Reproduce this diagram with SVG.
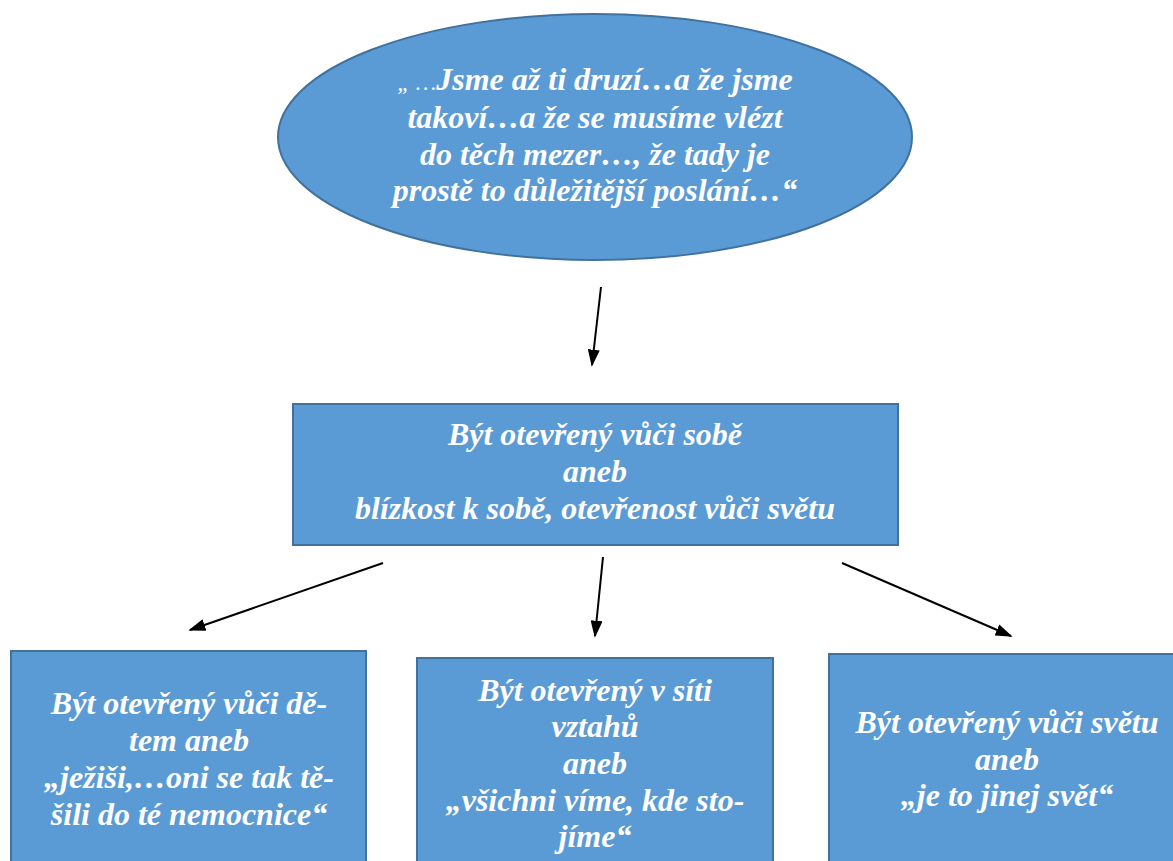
<svg xmlns="http://www.w3.org/2000/svg" width="1173" height="861" viewBox="0 0 1173 861">
<defs>
<style>
.shape{fill:#5b9bd5;stroke:#41719c;stroke-width:2}
.t{font-family:"Liberation Serif","Times New Roman",serif;font-weight:bold;font-style:italic;font-size:32px;fill:#ffffff;text-anchor:middle}
.conn{stroke:#000;stroke-width:2;fill:none;marker-end:url(#ah)}
</style>
<marker id="ah" viewBox="0 0 10 10" refX="9" refY="5" markerWidth="17" markerHeight="12" markerUnits="userSpaceOnUse" orient="auto" preserveAspectRatio="none">
<path d="M0,0 L10,5 L0,10 z" fill="#000"/>
</marker>
</defs>
<rect width="1173" height="861" fill="#ffffff"/>
<g id="n-quote">
<ellipse class="shape" cx="595" cy="137" rx="317" ry="123"/>
<text class="t" x="595" y="90"><tspan font-size="23" font-weight="normal">„ …</tspan>Jsme až ti druzí…a že jsme</text>
<text class="t" x="595" y="128">takoví…a že se musíme vlézt</text>
<text class="t" x="595" y="165">do těch mezer…, že tady je</text>
<text class="t" x="595" y="201">prostě to důležitější poslání…“</text>
</g>
<g id="n-main">
<rect class="shape" x="293" y="404" width="605" height="141"/>
<text class="t" x="595" y="445">Být otevřený vůči sobě</text>
<text class="t" x="595" y="482">aneb</text>
<text class="t" x="595" y="519">blízkost k sobě, otevřenost vůči světu</text>
</g>
<g id="n-left">
<rect class="shape" x="11" y="651" width="355" height="220"/>
<text class="t" x="189" y="714">Být otevřený vůči dě-</text>
<text class="t" x="189" y="751">tem aneb</text>
<text class="t" x="189" y="788">„ježiši,…oni se tak tě-</text>
<text class="t" x="189" y="825">šili do té nemocnice“</text>
</g>
<g id="n-middle">
<rect class="shape" x="417" y="658" width="356" height="213"/>
<text class="t" x="595" y="701">Být otevřený v síti</text>
<text class="t" x="595" y="737">vztahů</text>
<text class="t" x="595" y="774">aneb</text>
<text class="t" x="595" y="811">„všichni víme, kde sto-</text>
<text class="t" x="595" y="847">jíme“</text>
</g>
<g id="n-right">
<rect class="shape" x="829" y="654" width="356" height="217"/>
<text class="t" x="1007" y="733">Být otevřený vůči světu</text>
<text class="t" x="1007" y="770">aneb</text>
<text class="t" x="1007" y="806">„je to jinej svět“</text>
</g>
<g id="connectors">
<line class="conn" x1="601" y1="287" x2="592" y2="365"/>
<line class="conn" x1="383" y1="563" x2="190" y2="630"/>
<line class="conn" x1="603" y1="557" x2="595" y2="636"/>
<line class="conn" x1="842" y1="563" x2="1011" y2="636"/>
</g>
</svg>
